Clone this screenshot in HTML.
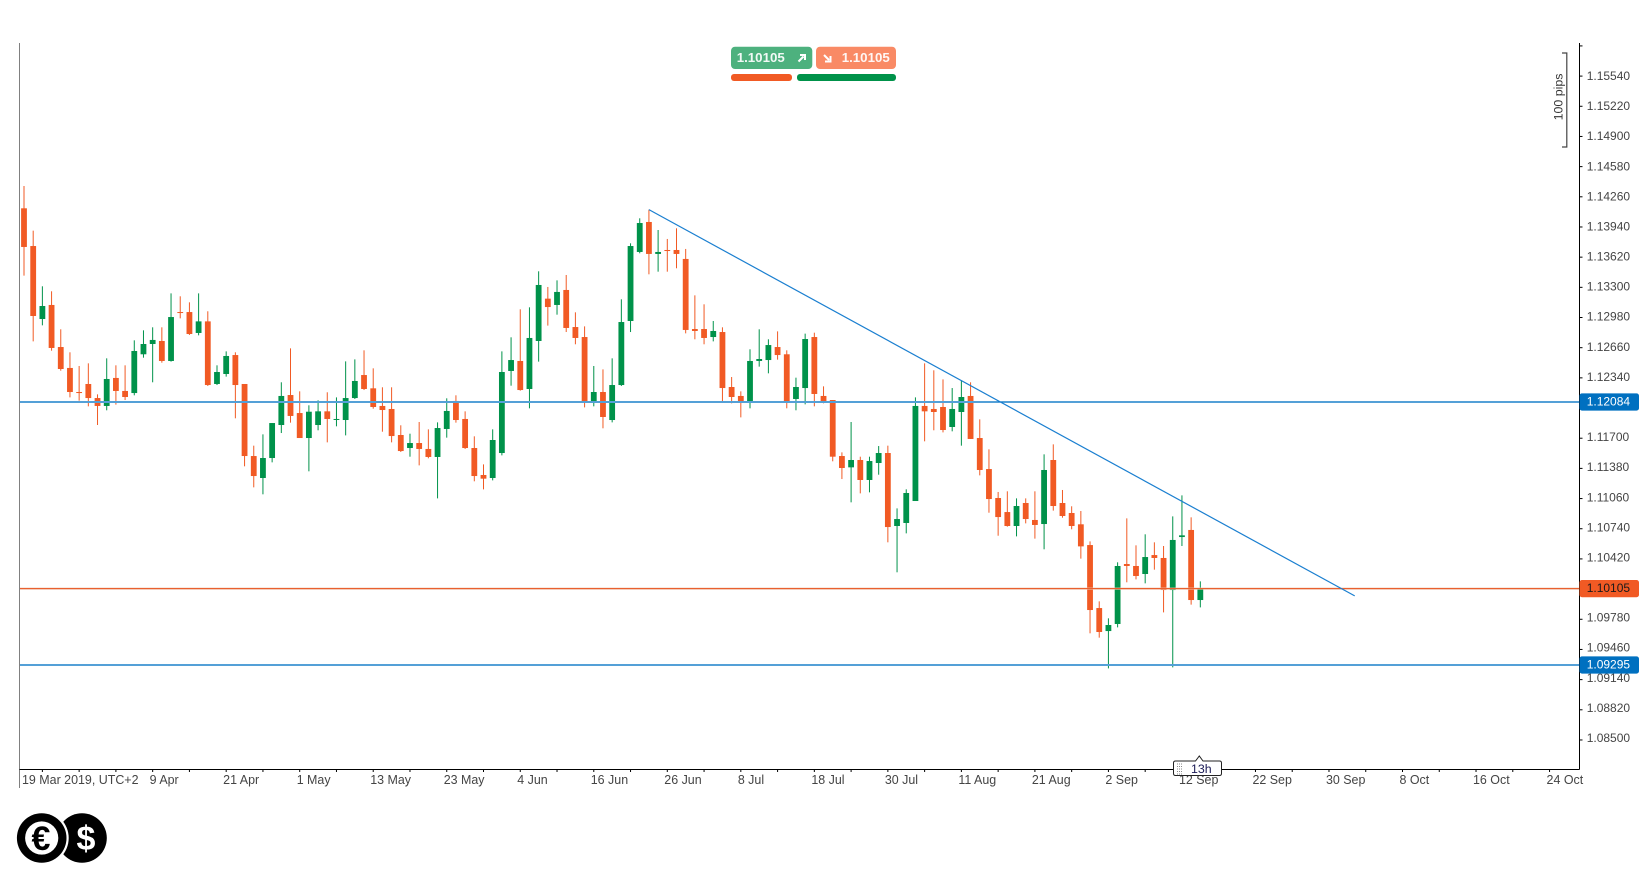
<!DOCTYPE html>
<html lang="en">
<head>
<meta charset="utf-8">
<title>EUR/USD daily chart</title>
<style>
html,body{margin:0;padding:0;background:#fff;width:1650px;height:890px;overflow:hidden}
svg{display:block;font-family:"Liberation Sans",sans-serif}
.tick-label{font-size:12px;fill:#444}
.time-label{font-size:12.45px;fill:#444}
</style>
</head>
<body>
<svg id="chart" width="1650" height="890" viewBox="0 0 1650 890" xmlns="http://www.w3.org/2000/svg">
  <rect x="0" y="0" width="1650" height="890" fill="#ffffff"/>
  <g id="candles"></g>
  <g id="levels"></g>
  <line x1="19.5" y1="43" x2="19.5" y2="788" stroke="#808080" stroke-width="1"/>
  <line x1="1579.5" y1="43" x2="1579.5" y2="769.5" stroke="#000" stroke-width="1"/>
  <line x1="19.5" y1="769.5" x2="1579.5" y2="769.5" stroke="#000" stroke-width="1"/>
  <g id="y-axis"></g>
  <g id="x-axis"></g>
  <g id="badges"></g>

  <g>
    <g>
      <rect x="731" y="46.7" width="81.3" height="22.3" rx="4" fill="#4db17e"/>
      <text x="736.7" y="62" font-size="13.3" font-weight="bold" fill="#fff" fill-opacity="0.92">1.10105</text>
      <path d="M798.5 61.5 L803.5 56.5 M800 55 H805 V60" stroke="#fff" stroke-width="2" fill="none"/>
    </g>
    <g>
      <rect x="816" y="46.7" width="80" height="22.3" rx="4" fill="#f98a65"/>
      <text x="841.7" y="62" font-size="13.3" font-weight="bold" fill="#fff" fill-opacity="0.92">1.10105</text>
      <path d="M824 55 L829 60 M830.5 56 V61.5 H825" stroke="#fff" stroke-width="2" fill="none"/>
    </g>
    <rect x="731" y="74" width="61" height="7" rx="3" fill="#f15a24"/>
    <rect x="797" y="74" width="99" height="7" rx="3" fill="#00924a"/>
  </g>

  <g>
    <path d="M1562 53 H1566.8 V147 H1562" fill="none" stroke="#444" stroke-width="1.2"/>
    <text transform="translate(1562.5 97) rotate(-90)" text-anchor="middle" font-size="12.4" fill="#333">100 pips</text>
  </g>

  <g>
    <path d="M1175.5 761 H1195.5 L1199.3 756 L1203 761 H1219.5 Q1221.5 761 1221.5 763 V773.5 Q1221.5 775.5 1219.5 775.5 H1175.5 Q1173.5 775.5 1173.5 773.5 V763 Q1173.5 761 1175.5 761 Z" fill="#fff" stroke="#222" stroke-width="1"/>
    <path d="M1177 764 h5 M1177 766.5 h5 M1177 769 h5 M1177 771.5 h5 M1177 774 h5" stroke="#888" stroke-width="1" stroke-dasharray="1 1"/>
    <text x="1191" y="773" font-size="12.4" fill="#1a1a55">13h</text>
  </g>

  <g>
    <circle cx="82" cy="838" r="24.8" fill="#000"/>
    <circle cx="41.7" cy="838" r="27" fill="#fff"/>
    <circle cx="41.7" cy="838" r="24.8" fill="#000"/>
    <circle cx="41.7" cy="838" r="16.6" fill="#fff"/>
    <text x="41" y="850" text-anchor="middle" font-size="34" font-weight="bold" fill="#000">€</text>
    <text x="86" y="850" text-anchor="middle" font-size="34" font-weight="bold" fill="#fff">$</text>
  </g>
</svg>

<script>
const opens = [1.14138,1.13738,1.12964,1.13113,1.12667,1.12445,1.12190,1.12275,1.12126,1.12042,1.12339,1.12201,1.12179,1.12590,1.12699,1.12731,1.12519,1.13038,1.13038,1.12816,1.12939,1.12275,1.12381,1.12582,1.12275,1.11511,1.11278,1.11490,1.11840,1.12158,1.11967,1.11702,1.11840,1.11985,1.11897,1.11893,1.12126,1.12370,1.12229,1.12042,1.12010,1.11734,1.11596,1.11649,1.11586,1.11501,1.11798,1.12095,1.11904,1.11596,1.11310,1.11278,1.11543,1.12413,1.12519,1.12222,1.12731,1.13180,1.13113,1.13272,1.12879,1.12773,1.12084,1.12190,1.11893,1.12264,1.12943,1.13675,1.13993,1.13654,1.13696,1.13696,1.13601,1.12858,1.12858,1.12773,1.12826,1.12243,1.12148,1.12080,1.12519,1.12529,1.12667,1.12590,1.12116,1.12232,1.12773,1.12148,1.12105,1.11511,1.11391,1.11469,1.11257,1.11437,1.11543,1.10769,1.10801,1.11034,1.12042,1.12010,1.12031,1.11819,1.11978,1.12148,1.11702,1.11373,1.11066,1.10917,1.10769,1.11013,1.10833,1.10790,1.11469,1.11013,1.10907,1.10787,1.10567,1.09899,1.09655,1.09730,1.10366,1.10345,1.10260,1.10461,1.10430,1.10090,1.10652,1.10727,1.09984];
const highs = [1.14375,1.13901,1.13311,1.13258,1.12855,1.12611,1.12466,1.12494,1.12165,1.12547,1.12473,1.12473,1.12738,1.12844,1.12876,1.12876,1.13236,1.13205,1.13141,1.13236,1.13046,1.12473,1.12621,1.12611,1.12275,1.11621,1.11741,1.11861,1.12293,1.12653,1.12197,1.12049,1.12102,1.12187,1.12133,1.12515,1.12536,1.12632,1.12441,1.12240,1.12240,1.11837,1.11748,1.11872,1.11794,1.11868,1.12123,1.12155,1.11985,1.11720,1.11423,1.11794,1.12621,1.12770,1.13067,1.13088,1.13470,1.13304,1.13374,1.13431,1.13035,1.12886,1.12466,1.12430,1.12547,1.13173,1.13767,1.14032,1.14124,1.13908,1.13813,1.13926,1.13707,1.13215,1.13120,1.12943,1.12876,1.12349,1.12197,1.12643,1.12855,1.12749,1.12833,1.12632,1.12342,1.12809,1.12819,1.12250,1.12105,1.11550,1.11872,1.11504,1.11504,1.11617,1.11621,1.10956,1.11158,1.12133,1.12494,1.12420,1.12324,1.12232,1.12314,1.12293,1.11900,1.11582,1.11130,1.11137,1.11062,1.11062,1.11137,1.11529,1.11635,1.11151,1.10978,1.10928,1.10606,1.09970,1.09790,1.10384,1.10850,1.10564,1.10681,1.10596,1.10557,1.10871,1.11094,1.10861,1.10182];
const lows = [1.13424,1.12727,1.12897,1.12628,1.12416,1.12133,1.12098,1.12038,1.11840,1.11996,1.12056,1.12105,1.12155,1.12554,1.12293,1.12501,1.12512,1.12971,1.12795,1.12791,1.12254,1.12264,1.12353,1.11911,1.11402,1.11179,1.11105,1.11444,1.11755,1.11865,1.11702,1.11349,1.11784,1.11656,1.11826,1.11730,1.12116,1.12211,1.12013,1.11769,1.11656,1.11554,1.11504,1.11412,1.11487,1.11062,1.11706,1.11865,1.11586,1.11243,1.11158,1.11253,1.11518,1.12257,1.12204,1.12017,1.12512,1.12894,1.13010,1.12826,1.12696,1.12027,1.12038,1.11805,1.11868,1.12254,1.12826,1.13661,1.13438,1.13466,1.13466,1.13502,1.12812,1.12749,1.12696,1.12727,1.12080,1.12070,1.11921,1.12017,1.12459,1.12388,1.12533,1.12017,1.11996,1.12059,1.12038,1.12070,1.11455,1.11267,1.11020,1.11115,1.11126,1.11313,1.10596,1.10278,1.10691,1.11034,1.11667,1.11784,1.11762,1.11773,1.11621,1.11692,1.11306,1.10910,1.10666,1.10762,1.10659,1.10797,1.10635,1.10522,1.10932,1.10857,1.10734,1.10423,1.09631,1.09585,1.09259,1.09694,1.10172,1.10203,1.10161,1.10306,1.09853,1.09270,1.10557,1.09935,1.09906];
const closes = [1.13728,1.12996,1.13102,1.12657,1.12434,1.12190,1.12179,1.12126,1.12042,1.12328,1.12201,1.12137,1.12625,1.12699,1.12742,1.12519,1.12985,1.13031,1.12805,1.12939,1.12264,1.12402,1.12572,1.12264,1.11511,1.11299,1.11490,1.11861,1.12148,1.11936,1.11702,1.11981,1.11985,1.11904,1.11904,1.12126,1.12307,1.12222,1.12031,1.11999,1.11723,1.11564,1.11649,1.11586,1.11501,1.11808,1.11989,1.11893,1.11596,1.11299,1.11271,1.11681,1.12402,1.12529,1.12211,1.12763,1.13325,1.13091,1.13251,1.12869,1.12763,1.12080,1.12190,1.11925,1.12264,1.12932,1.13738,1.13982,1.13654,1.13675,1.13685,1.13654,1.12848,1.12837,1.12763,1.12837,1.12232,1.12137,1.12084,1.12519,1.12540,1.12688,1.12582,1.12091,1.12243,1.12752,1.12169,1.12084,1.11504,1.11384,1.11469,1.11257,1.11458,1.11543,1.10758,1.10843,1.11119,1.12042,1.11985,1.11978,1.11787,1.12010,1.12137,1.11692,1.11363,1.11055,1.10864,1.10769,1.10981,1.10843,1.10780,1.11363,1.10981,1.10875,1.10769,1.10553,1.09878,1.09645,1.09719,1.10345,1.10345,1.10239,1.10440,1.10430,1.10090,1.10621,1.10670,1.09984,1.10111];

const priceTicks = ["1.15860","1.15540","1.15220","1.14900","1.14580","1.14260","1.13940","1.13620","1.13300","1.12980","1.12660","1.12340","1.12020","1.11700","1.11380","1.11060","1.10740","1.10420","1.10100","1.09780","1.09460","1.09140","1.08820","1.08500"];
const unlabelledTicks = ["1.15860","1.12020","1.10100"];
const dateLabels = ["9 Apr","21 Apr","1 May","13 May","23 May","4 Jun","16 Jun","26 Jun","8 Jul","18 Jul","30 Jul","11 Aug","21 Aug","2 Sep","12 Sep","22 Sep","30 Sep","8 Oct","16 Oct","24 Oct"];
const firstDateLabel = "19 Mar 2019, UTC+2";
const trendBars = [68, 144.8];
const trendPrices = [1.14124, 1.10028];
const levelPrices = [1.12084, 1.09295];
const currentPrice = 1.10105;

const NS = "http://www.w3.org/2000/svg";
const GREEN = "#00924a", RED = "#f15a24", BLUE = "#0070c0";
const PX_PER_PRICE = 9430, LEVEL_REF = 1.12084, LEVEL_Y = 402;
const LABEL_PX_PER_PRICE = 9403, LABEL_REF = 1.1554, LABEL_Y = 80;
const BAR_STEP = 9.19, BAR0_X = 24;

function xScale(i) { return BAR0_X + BAR_STEP * i; }
function yScale(p) { return LEVEL_Y + (LEVEL_REF - p) * PX_PER_PRICE; }
function labelY(p) { return LABEL_Y + (LABEL_REF - p) * LABEL_PX_PER_PRICE; }
function make(tag, attrs, parent) {
  const el = document.createElementNS(NS, tag);
  for (const k in attrs) el.setAttribute(k, attrs[k]);
  parent.appendChild(el);
  return el;
}

const candlesG = document.getElementById("candles");
opens.forEach(function (o, i) {
  const c = closes[i];
  const col = c >= o ? GREEN : RED;
  const x = xScale(i);
  const wick = make("line", { x1: x, x2: x, y1: yScale(highs[i]), y2: yScale(lows[i]), stroke: col, "stroke-width": 1 }, candlesG);
  
  
  const top = yScale(Math.max(o, c)), bot = yScale(Math.min(o, c));
  const body = make("rect", { x: x - 2.9, y: top, width: 5.8, height: Math.max(bot - top, 1), fill: col }, candlesG);
  
  
});

const levelsG = document.getElementById("levels");
function drawLevel(price, col, pale) {
  const y = yScale(price);
  const halo = make("line", { x1: 19.5, x2: 1579, y1: y, y2: y, stroke: pale, "stroke-width": 2 }, levelsG);
  
  
  const line = make("line", { x1: 19.5, x2: 1579, y1: y, y2: y, stroke: col, "stroke-width": 0.9 }, levelsG);
  
  
}
levelPrices.forEach(function (p) { drawLevel(p, BLUE, "#a9d0ee"); });
drawLevel(currentPrice, "#e9521d", "#ecc6b0");

const trend = make("line", { x1: xScale(trendBars[0]), y1: yScale(trendPrices[0]), x2: xScale(trendBars[1]), y2: yScale(trendPrices[1]), stroke: "#1a7fd0", "stroke-width": 1.2 }, levelsG);



const yAxisG = document.getElementById("y-axis");
priceTicks.forEach(function (t) {
  const v = parseFloat(t);
  const y = yScale(v);
  const tick = make("line", { x1: 1580, x2: 1582.5, y1: y, y2: y, stroke: "#000", "stroke-width": 1 }, yAxisG);
  
  
  if (unlabelledTicks.indexOf(t) === -1) {
    const label = make("text", { x: 1586.7, y: labelY(v), class: "tick-label" }, yAxisG);
    
    
    label.textContent = t;
  }
});

const xAxisG = document.getElementById("x-axis");
for (let b = 2; xScale(b) < 1579; b += 4) {
  const tick = make("line", { x1: xScale(b), x2: xScale(b), y1: 770, y2: 772, stroke: "#000", "stroke-width": 1 }, xAxisG);
  
  
}
const startLabel = make("text", { x: 22, y: 784, class: "time-label" }, xAxisG);


startLabel.textContent = firstDateLabel;
dateLabels.forEach(function (d, k) {
  const label = make("text", { x: xScale(14 + 8 * k) - 3, y: 784, class: "time-label" }, xAxisG);
  
  
  label.textContent = d;
});

const badgesG = document.getElementById("badges");
function drawBadge(price, fill, textCol, digits) {
  const y = yScale(price);
  const r = make("rect", { x: 1579.5, y: y - 8.6, width: 59.5, height: 17.2, rx: 2.5, fill: fill }, badgesG);
  
  
  const t = make("text", { x: 1586.7, y: y + 3.6, "font-size": 12, fill: textCol }, badgesG);
  
  
  t.textContent = digits;
}
levelPrices.forEach(function (p) { drawBadge(p, BLUE, "#ffffff", p.toFixed(5)); });
drawBadge(currentPrice, RED, "#1a1a1a", currentPrice.toFixed(5));
</script>
</body>
</html>
